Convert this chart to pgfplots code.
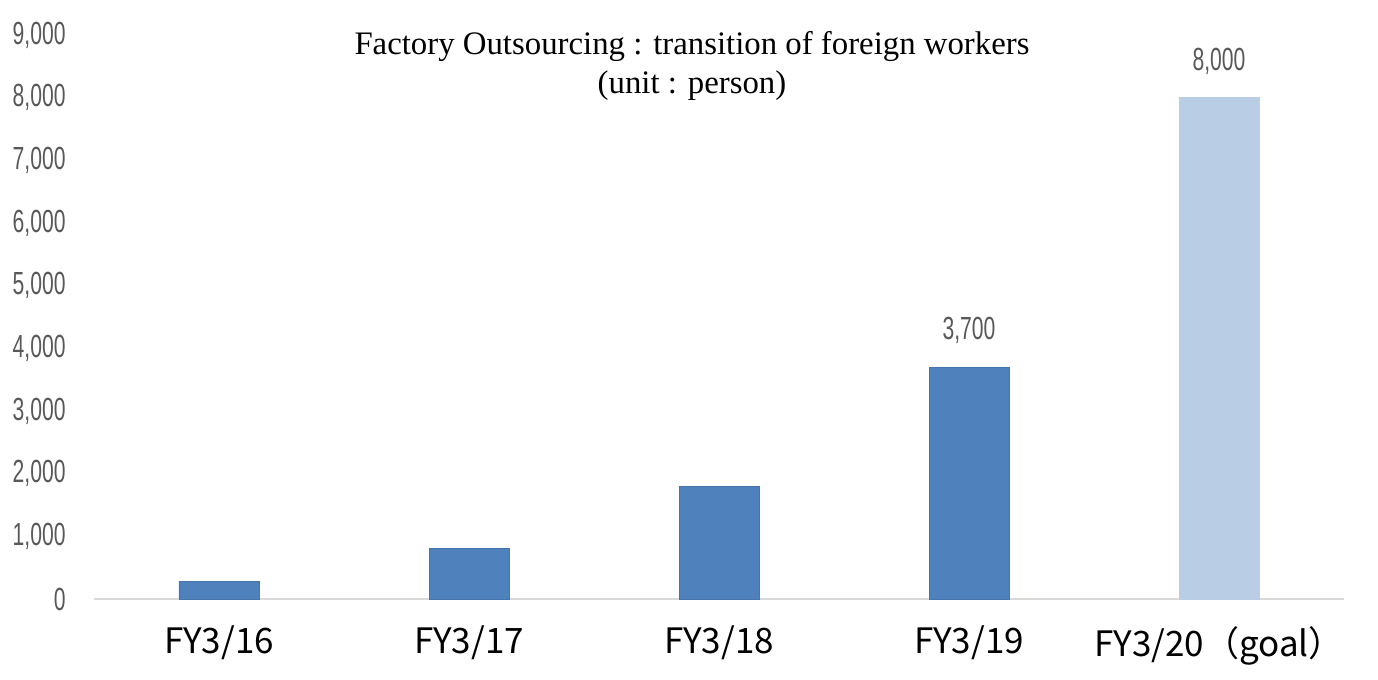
\documentclass[border=0pt]{standalone}
\usepackage{fontspec}
\setmainfont{Liberation Serif}
\newfontfamily\narrow[FakeStretch=0.66]{Liberation Sans}
\newfontfamily\jpfont{Noto Sans CJK JP}
\usepackage{pgfplots}
\pgfplotsset{compat=1.18}
\definecolor{barblue}{HTML}{4F81BD}
\definecolor{barlight}{HTML}{B9CDE5}
\definecolor{basegray}{HTML}{D9D9D9}
\definecolor{ticktext}{HTML}{595959}
\begin{document}
\begin{tikzpicture}[x=1pt,y=1pt]
\begin{axis}[
  at={(109.5pt,40.5pt)}, anchor=origin,
  scale only axis,
  width=625pt, height=282pt,
  xmin=-0.5, xmax=4.5,
  ymin=0, ymax=9000,
  ybar, bar width=40pt, bar shift=0pt,
  axis y line=none,
  axis x line*=bottom,
  x axis line style={basegray, line width=1.2pt},
  xtick={0,1,2,3,4},
  xticklabels={FY3/16,FY3/17,FY3/18,FY3/19,FY3/20（goal）},
  major tick length=0pt,
  xticklabel style={font=\jpfont\fontsize{17.5}{17.5}\selectfont, text=black, yshift=-10pt},
  ytick={0,1000,...,9000},
  clip=false,
]
\addplot[fill=barblue, draw=barblue!90!black, line width=0.4pt] coordinates {(0,280) (1,800) (2,1800)};
\addplot[fill=barblue, draw=barblue!90!black, line width=0.4pt,
  nodes near coords, nodes near coords style={font=\narrow\fontsize{16}{16}\selectfont, text=ticktext, yshift=8pt},
  /pgf/number format/1000 sep={,}, /pgf/number format/assume math mode=true] coordinates {(3,3700)};
\addplot[fill=barlight, draw=barlight,
  nodes near coords, nodes near coords style={font=\narrow\fontsize{16}{16}\selectfont, text=ticktext, yshift=8pt},
  /pgf/number format/1000 sep={,}, /pgf/number format/assume math mode=true] coordinates {(4,8000)};
\pgfplotsinvokeforeach{0,1000,2000,3000,4000,5000,6000,7000,8000,9000}{
  \node[anchor=east, font=\narrow\fontsize{16}{16}\selectfont, text=ticktext, inner sep=0pt]
    at (axis cs:-0.5,#1) [xshift=-14pt] {\pgfmathprintnumber[1000 sep={,}, assume math mode=true]{#1}};
}
\end{axis}
\node[align=center, font=\fontsize{16.4}{19.5}\selectfont] at (346pt,307pt)
  {Factory Outsourcing : transition of foreign workers\\(unit : person)};
\pgfresetboundingbox
\useasboundingbox (0,0) rectangle (689pt,340pt);
\end{tikzpicture}
\end{document}
